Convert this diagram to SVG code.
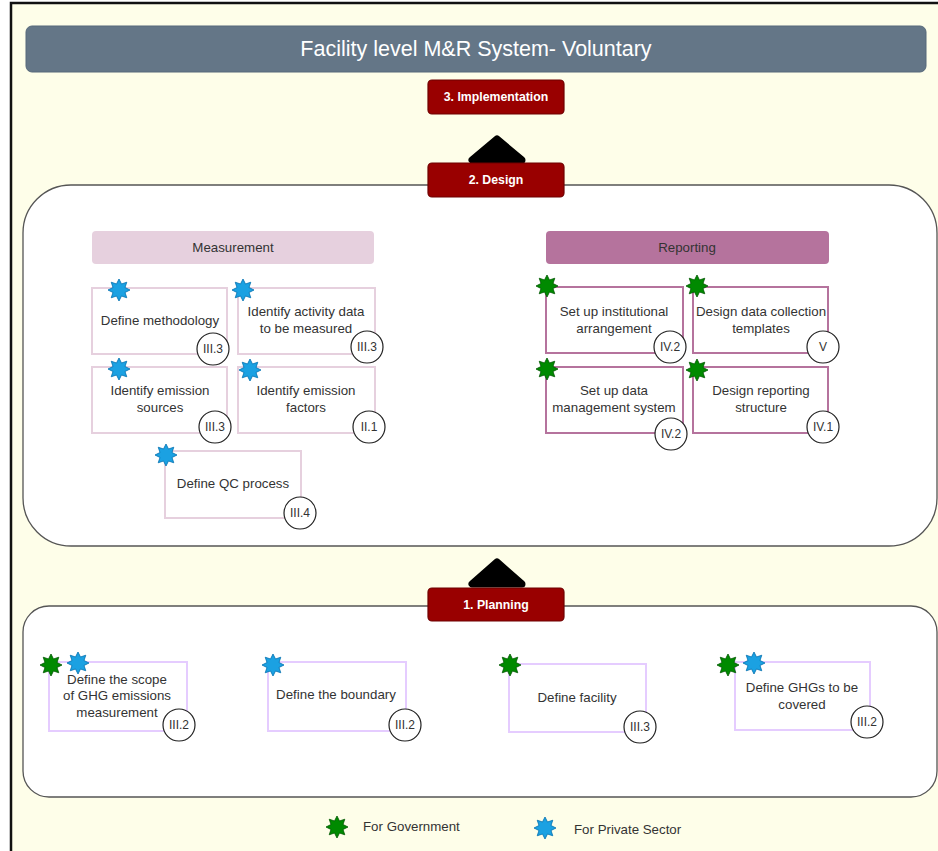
<svg xmlns="http://www.w3.org/2000/svg" xmlns:xlink="http://www.w3.org/1999/xlink" width="938" height="851" viewBox="0 0 938 851">
<style>
text{font-family:"Liberation Sans",Arial,sans-serif;fill:#333;font-size:13.3px;text-anchor:middle}
.stage rect{fill:#990000;stroke:#6f0000;stroke-width:1.2}
.stage text{fill:#fff;font-weight:bold;font-size:12.3px}
.cont{fill:#fff;stroke:#555;stroke-width:1.3}
.mbox{fill:#fff;stroke:#e6d0de;stroke-width:2}
.rbox{fill:#fff;stroke:#b5739d;stroke-width:2}
.pbox{fill:#fff;stroke:#e5ccff;stroke-width:2}
.ref circle{fill:#fff;stroke:#222;stroke-width:1.2}
.ref text{font-size:12px}
.arrow{fill:#000;stroke:#000;stroke-width:7;stroke-linejoin:round}
</style>
<defs>
<polygon id="star" points="0,-11 2.49,-6.01 7.78,-7.78 6.01,-2.49 11,0 6.01,2.49 7.78,7.78 2.49,6.01 0,11 -2.49,6.01 -7.78,7.78 -6.01,2.49 -11,0 -6.01,-2.49 -7.78,-7.78 -2.49,-6.01"/>
</defs>
<rect x="0" y="0" width="938" height="851" fill="#fff"/>
<rect x="11" y="3" width="940" height="860" fill="#fefee9" stroke="#111" stroke-width="2.5"/>

<g id="title">
<rect x="26" y="26" width="900" height="46" rx="6" fill="#647687" stroke="#56687a"/>
<text x="476" y="56" style="fill:#fff;font-size:21.5px">Facility level M&amp;R System- Voluntary</text>
</g>

<g id="design-container"><rect class="cont" x="23" y="185" width="914" height="361" rx="48"/></g>
<g id="planning-container"><rect class="cont" x="23" y="606" width="914" height="191" rx="26"/></g>

<g id="connectors">
<polygon class="arrow" points="497,139 472,160 522,160"/>
<polygon class="arrow" points="497,562 472,584 522,584"/>
</g>

<g id="implementation" class="stage"><rect x="428" y="80" width="136" height="34" rx="4"/><text x="496" y="101">3. Implementation</text></g>
<g id="design" class="stage"><rect x="428" y="163" width="136" height="34" rx="4"/><text x="496" y="184">2. Design</text></g>
<g id="planning" class="stage"><rect x="428" y="588" width="136" height="33" rx="4"/><text x="496" y="609">1. Planning</text></g>

<g id="measurement-header"><rect x="92" y="231" width="282" height="33" rx="4" fill="#e6d0de"/><text x="233" y="252">Measurement</text></g>
<g id="reporting-header"><rect x="546" y="231" width="283" height="33" rx="4" fill="#b5739d"/><text x="687" y="252">Reporting</text></g>

<!-- Measurement -->
<g id="define-methodology">
<rect class="mbox" x="92" y="288" width="135" height="66"/>
<text x="160" y="325">Define methodology</text>
<use href="#star" x="119" y="290" fill="#1ba1e2" stroke="#006eaf" stroke-width="0.8"/>
<g class="ref"><circle cx="213" cy="349" r="16"/><text x="213" y="353">III.3</text></g>
</g>
<g id="identify-activity">
<rect class="mbox" x="238" y="288" width="137" height="66"/>
<text x="306" y="316">Identify activity data</text><text x="306" y="333">to be measured</text>
<use href="#star" x="243" y="290" fill="#1ba1e2" stroke="#006eaf" stroke-width="0.8"/>
<g class="ref"><circle cx="367" cy="347" r="16"/><text x="367" y="351">III.3</text></g>
</g>
<g id="identify-sources">
<rect class="mbox" x="92" y="367" width="135" height="66"/>
<text x="160" y="395">Identify emission</text><text x="160" y="412">sources</text>
<use href="#star" x="119" y="369" fill="#1ba1e2" stroke="#006eaf" stroke-width="0.8"/>
<g class="ref"><circle cx="215" cy="427" r="16"/><text x="215" y="431">III.3</text></g>
</g>
<g id="identify-factors">
<rect class="mbox" x="238" y="367" width="137" height="66"/>
<text x="306" y="395">Identify emission</text><text x="306" y="412">factors</text>
<use href="#star" x="250" y="370" fill="#1ba1e2" stroke="#006eaf" stroke-width="0.8"/>
<g class="ref"><circle cx="369" cy="427" r="16"/><text x="369" y="431">II.1</text></g>
</g>
<g id="define-qc">
<rect class="mbox" x="165" y="451" width="136" height="67"/>
<text x="233" y="488">Define QC process</text>
<use href="#star" x="166" y="455" fill="#1ba1e2" stroke="#006eaf" stroke-width="0.8"/>
<g class="ref"><circle cx="300" cy="513" r="16"/><text x="300" y="517">III.4</text></g>
</g>

<!-- Reporting -->
<g id="institutional">
<rect class="rbox" x="546" y="287" width="137" height="66"/>
<text x="614" y="316">Set up institutional</text><text x="614" y="333">arrangement</text>
<use href="#star" x="547" y="286" fill="#008a00" stroke="#005700" stroke-width="0.8"/>
<g class="ref"><circle cx="670" cy="347" r="16"/><text x="670" y="351">IV.2</text></g>
</g>
<g id="templates">
<rect class="rbox" x="693" y="287" width="135" height="66"/>
<text x="761" y="316">Design data collection</text><text x="761" y="333">templates</text>
<use href="#star" x="697" y="286" fill="#008a00" stroke="#005700" stroke-width="0.8"/>
<g class="ref"><circle cx="823" cy="347" r="16"/><text x="823" y="351">V</text></g>
</g>
<g id="data-management">
<rect class="rbox" x="546" y="367" width="137" height="66"/>
<text x="614" y="395">Set up data</text><text x="614" y="412">management system</text>
<use href="#star" x="547" y="369" fill="#008a00" stroke="#005700" stroke-width="0.8"/>
<g class="ref"><circle cx="671" cy="434" r="16"/><text x="671" y="438">IV.2</text></g>
</g>
<g id="reporting-structure">
<rect class="rbox" x="693" y="367" width="135" height="66"/>
<text x="761" y="395">Design reporting</text><text x="761" y="412">structure</text>
<use href="#star" x="697" y="370" fill="#008a00" stroke="#005700" stroke-width="0.8"/>
<g class="ref"><circle cx="823" cy="427" r="16"/><text x="823" y="431">IV.1</text></g>
</g>

<!-- Planning -->
<g id="define-scope">
<rect class="pbox" x="49" y="662" width="138" height="69"/>
<text x="117" y="684">Define the scope</text><text x="117" y="700">of GHG emissions</text><text x="117" y="717">measurement</text>
<use href="#star" x="51" y="665" fill="#008a00" stroke="#005700" stroke-width="0.8"/>
<use href="#star" x="78" y="663" fill="#1ba1e2" stroke="#006eaf" stroke-width="0.8"/>
<g class="ref"><circle cx="179" cy="725" r="16"/><text x="179" y="729">III.2</text></g>
</g>
<g id="define-boundary">
<rect class="pbox" x="268" y="662" width="138" height="69"/>
<text x="336" y="699">Define the boundary</text>
<use href="#star" x="273" y="665" fill="#1ba1e2" stroke="#006eaf" stroke-width="0.8"/>
<g class="ref"><circle cx="405" cy="725" r="16"/><text x="405" y="729">III.2</text></g>
</g>
<g id="define-facility">
<rect class="pbox" x="509" y="664" width="137" height="68"/>
<text x="577" y="702">Define facility</text>
<use href="#star" x="510" y="665" fill="#008a00" stroke="#005700" stroke-width="0.8"/>
<g class="ref"><circle cx="640" cy="727" r="16"/><text x="640" y="731">III.3</text></g>
</g>
<g id="define-ghgs">
<rect class="pbox" x="735" y="662" width="135" height="68"/>
<text x="802" y="692">Define GHGs to be</text><text x="802" y="709">covered</text>
<use href="#star" x="728" y="665" fill="#008a00" stroke="#005700" stroke-width="0.8"/>
<use href="#star" x="754" y="663" fill="#1ba1e2" stroke="#006eaf" stroke-width="0.8"/>
<g class="ref"><circle cx="867" cy="722" r="16"/><text x="867" y="726">III.2</text></g>
</g>

<g id="legend">
<use href="#star" x="337" y="827" fill="#008a00" stroke="#005700" stroke-width="0.8"/>
<text x="363" y="831" style="text-anchor:start">For Government</text>
<use href="#star" x="545" y="828" fill="#1ba1e2" stroke="#006eaf" stroke-width="0.8"/>
<text x="574" y="834" style="text-anchor:start">For Private Sector</text>
</g>
</svg>
